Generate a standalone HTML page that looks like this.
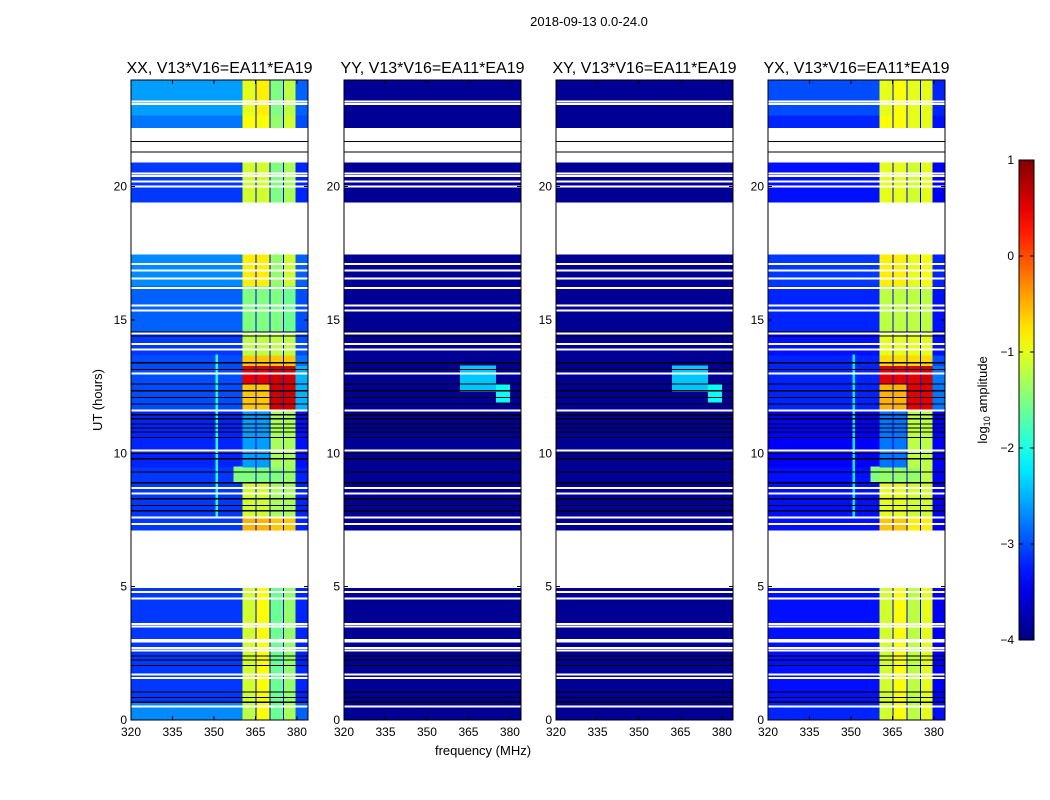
<!DOCTYPE html>
<html><head><meta charset="utf-8">
<style>
body{margin:0;background:#fff;}
svg{display:block;font-family:"Liberation Sans","DejaVu Sans",sans-serif;}
</style></head>
<body>
<svg id="chart" width="1050" height="800" viewBox="0 0 1050 800">
<text x="589" y="26" font-size="13" text-anchor="middle">2018-09-13 0.0-24.0</text>
<g id="panels" shape-rendering="crispEdges"></g>
<text transform="translate(102,400) rotate(-90)" font-size="13" text-anchor="middle">UT (hours)</text>
<text x="483" y="755" font-size="13" text-anchor="middle">frequency (MHz)</text>
<g id="cbar"></g>
<text transform="translate(987,400) rotate(-90)" font-size="13" text-anchor="middle">log<tspan font-size="9" dy="3">10</tspan><tspan dy="-3"> amplitude</tspan></text>
</svg>
<script>
// ---- data ----
const panelTitles = ["XX, V13*V16=EA11*EA19","YY, V13*V16=EA11*EA19","XY, V13*V16=EA11*EA19","YX, V13*V16=EA11*EA19"];
const bandEdges = [320, 360.3, 365, 370, 375, 379.5, 384];
const segStart = [0, 0.7, 7.1, 7.6, 8.9, 9.5, 11.6, 12.6, 13.3, 13.7, 14.6, 16.3, 19.4, 22.2, 22.7];
const segEnd   = [0.7, 4.95, 7.6, 8.9, 9.5, 11.6, 12.6, 13.3, 13.7, 14.6, 16.3, 17.45, 20.9, 22.7, 24];
const xxValues = [
 [-2.7,-1.2,-0.9,-1.6,-1.3,-2.9],
 [-3.1,-1.1,-0.9,-1.6,-1.4,-3.2],
 [-3.1,-0.5,-0.5,-0.6,-0.6,-3.2],
 [-3.1,-1.1,-1.1,-1.3,-1.3,-3.2],
 [-3.1,-1.5,-1.5,-1.5,-1.4,-3.2],
 [-3.2,-2.6,-2.6,-1.3,-1.3,-3.3],
 [-3.0,-0.6,-0.6,0.6,0.6,-2.5],
 [-3.0,0.5,0.5,0.6,0.6,-2.5],
 [-3.0,-0.6,-0.6,-0.6,-0.6,-2.8],
 [-3.1,-1.2,-1.2,-1.2,-1.2,-3.0],
 [-2.9,-1.5,-1.5,-1.5,-1.6,-3.0],
 [-2.7,-0.8,-0.8,-1.4,-1.1,-2.9],
 [-3.1,-1.1,-1.1,-1.5,-1.3,-3.2],
 [-2.8,-0.9,-0.9,-1.4,-1.1,-3.0],
 [-2.6,-1.0,-0.8,-1.5,-1.2,-2.9]];
const yyValues = segStart.map(()=>[-3.9,-3.9,-3.9,-3.9,-3.9,-3.9]);
const xyValues = segStart.map(()=>[-3.9,-3.9,-3.9,-3.9,-3.9,-3.9]);
const yxValues = [
 [-3.2,-1.1,-0.9,-1.2,-1.0,-3.3],
 [-3.3,-1.1,-0.9,-1.2,-1.0,-3.4],
 [-3.3,-0.6,-0.6,-0.8,-0.8,-3.4],
 [-3.3,-1.0,-1.0,-1.1,-1.1,-3.4],
 [-3.3,-1.4,-1.4,-1.4,-1.2,-3.4],
 [-3.4,-2.8,-2.8,-1.2,-1.2,-3.4],
 [-3.2,-0.5,-0.5,0.5,0.5,-2.8],
 [-3.2,0.5,0.5,0.5,0.6,-2.8],
 [-3.2,-0.7,-0.7,-0.7,-0.7,-3.0],
 [-3.3,-1.0,-1.0,-1.0,-1.0,-3.3],
 [-3.2,-1.2,-1.2,-1.2,-1.2,-3.3],
 [-3.1,-0.8,-0.8,-1.0,-0.9,-3.2],
 [-3.3,-1.0,-1.0,-1.1,-1.0,-3.4],
 [-3.2,-0.9,-0.9,-1.0,-1.0,-3.3],
 [-3.0,-1.0,-0.9,-1.0,-1.0,-3.2]];
const panelValues = [xxValues, yyValues, xyValues, yxValues];
// features: panel, f0, f1, t0, t1, value
const featPanel = [0,0,0,0,0,3,3,3,3,1,1,2,2,3];
const featF0    = [350.5,365,370,375,357,350.5,365,370,375,362,375,362,375,357];
const featF1    = [351.5,365.4,370.4,375.4,360.3,351.5,365.4,370.4,375.4,375,380,375,380,360.3];
const featT0    = [7.6,0,0,0,8.9,7.6,0,0,0,12.3,11.9,12.3,11.9,8.9];
const featT1    = [13.7,24,24,24,9.5,13.7,24,24,24,13.3,12.6,13.3,12.6,9.5];
const featVal   = [-2.0,-3.5,-3.5,-3.5,-1.5,-2.2,-3.5,-3.5,-3.5,-2.4,-2.1,-2.4,-2.1,-1.5];
const gapStart = [4.95, 17.45, 20.9];
const gapEnd   = [7.1, 19.4, 22.2];
const whiteLines = [0.5,1.57,1.7,2.6,2.7,2.95,3.0,3.5,3.6,4.55,4.8,7.35,7.6,8.5,8.7,10.1,11.6,13.0,13.9,14.1,14.5,15.36,15.55,16.2,16.56,16.86,17.1,20.0,20.2,20.4,20.5,23.1,23.2];
const blackLines = [0.67,0.85,1.05,2.05,2.25,2.4,7.85,8.05,8.3,8.9,9.3,9.8,10.0,10.6,10.8,10.95,11.1,11.3,11.45,11.85,12.1,12.35,12.6,13.15,13.4,14.4,14.55,21.3,21.7];
const xTicks = [320,335,350,365,380];
const yTicks = [0,5,10,15,20];
const cbTicks = [1,0,-1,-2,-3,-4];

// ---- geometry ----
const panelLeft = [131,344,556,768], PW = 177, PT = 80, PB = 720;
const vmin=-4, vmax=1;
const xs = (i,f)=> panelLeft[i] + (f-320)/(384-320)*PW;
const ys = h => PB - h/24*(PB-PT);
function jet(v){
  let t=(v-vmin)/(vmax-vmin); t=Math.max(0,Math.min(1,t));
  const c=x=>Math.round(255*Math.max(0,Math.min(1,x)));
  return `rgb(${c(1.5-Math.abs(4*t-3))},${c(1.5-Math.abs(4*t-2))},${c(1.5-Math.abs(4*t-1))})`;
}
const NS="http://www.w3.org/2000/svg";
function mk(tag, attrs, parent){const e=document.createElementNS(NS,tag);for(const k in attrs)e.setAttribute(k,attrs[k]);parent.appendChild(e);return e;}
const root=document.getElementById('panels');
for(let p=0;p<4;p++){
  const g=mk('g',{},root);
  
  
  const vals=panelValues[p];
  for(let s=0;s<segStart.length;s++){
    for(let b=0;b<bandEdges.length-1;b++){
      const r=mk('rect',{x:xs(p,bandEdges[b]),y:ys(segEnd[s]),width:xs(p,bandEdges[b+1])-xs(p,bandEdges[b])+0.6,height:ys(segStart[s])-ys(segEnd[s])+0.6,fill:jet(vals[s][b])},g);
      
      
    }
  }
  for(let k=0;k<featPanel.length;k++){ if(featPanel[k]!==p) continue;
    const r=mk('rect',{x:xs(p,featF0[k]),y:ys(featT1[k]),width:xs(p,featF1[k])-xs(p,featF0[k]),height:ys(featT0[k])-ys(featT1[k]),fill:jet(featVal[k])},g);
    
    
  }
  for(let k=0;k<gapStart.length;k++){
    const r=mk('rect',{x:panelLeft[p],y:ys(gapEnd[k]),width:PW,height:ys(gapStart[k])-ys(gapEnd[k]),fill:'#fff'},g);
    
    
  }
  whiteLines.forEach(h=>{
    const r=mk('rect',{x:panelLeft[p],y:ys(h)-1,width:PW,height:2,fill:'#fff'},g);
    
    
  });
  blackLines.forEach(h=>{
    const r=mk('rect',{x:panelLeft[p],y:ys(h)-0.5,width:PW,height:1.2,fill:'#000'},g);
    
    
  });
  const fr=mk('rect',{x:panelLeft[p],y:PT,width:PW,height:PB-PT,fill:'none',stroke:'#000','stroke-width':1},g);
  
  
  const t=mk('text',{x:panelLeft[p]+PW/2,y:73,'font-size':16,'text-anchor':'middle'},g);
  t.textContent=panelTitles[p];
  
  
  xTicks.forEach(f=>{
    const x=xs(p,f);
    mk('line',{x1:x,x2:x,y1:PB,y2:PB-4,stroke:'#000'},g);
    mk('line',{x1:x,x2:x,y1:PT,y2:PT+4,stroke:'#000'},g);
    const tl=mk('text',{x:x,y:PB+16,'font-size':12,'text-anchor':'middle'},g);
    tl.textContent=f;
    
    
  });
  yTicks.forEach(h=>{
    const y=ys(h);
    mk('line',{x1:panelLeft[p],x2:panelLeft[p]+4,y1:y,y2:y,stroke:'#000'},g);
    mk('line',{x1:panelLeft[p]+PW,x2:panelLeft[p]+PW-4,y1:y,y2:y,stroke:'#000'},g);
    const tl=mk('text',{x:panelLeft[p]-4,y:y+4,'font-size':12,'text-anchor':'end'},g);
    tl.textContent=h;
    
    
  });
}
// colorbar
const cb=document.getElementById('cbar');
const CBX=1019, CBW=15, CBT=160, CBB=640;
const defs=mk('defs',{},cb);
const grad=mk('linearGradient',{id:'jetg',x1:0,y1:1,x2:0,y2:0},defs);
for(let i=0;i<=20;i++){mk('stop',{offset:i/20,'stop-color':jet(vmin+(vmax-vmin)*i/20)},grad);}
mk('rect',{x:CBX,y:CBT,width:CBW,height:CBB-CBT,fill:'url(#jetg)',stroke:'#000','stroke-width':1},cb);
cbTicks.forEach(v=>{
  const y=CBB-(v-vmin)/(vmax-vmin)*(CBB-CBT);
  mk('line',{x1:CBX,x2:CBX+4,y1:y,y2:y,stroke:'#000'},cb);
  mk('line',{x1:CBX+CBW,x2:CBX+CBW-4,y1:y,y2:y,stroke:'#000'},cb);
  const tl=mk('text',{x:CBX-5,y:y+4,'font-size':12,'text-anchor':'end'},cb);
  tl.textContent=(v<0?'\u2212'+(-v):v);
  
  
});
</script>
</body></html>
